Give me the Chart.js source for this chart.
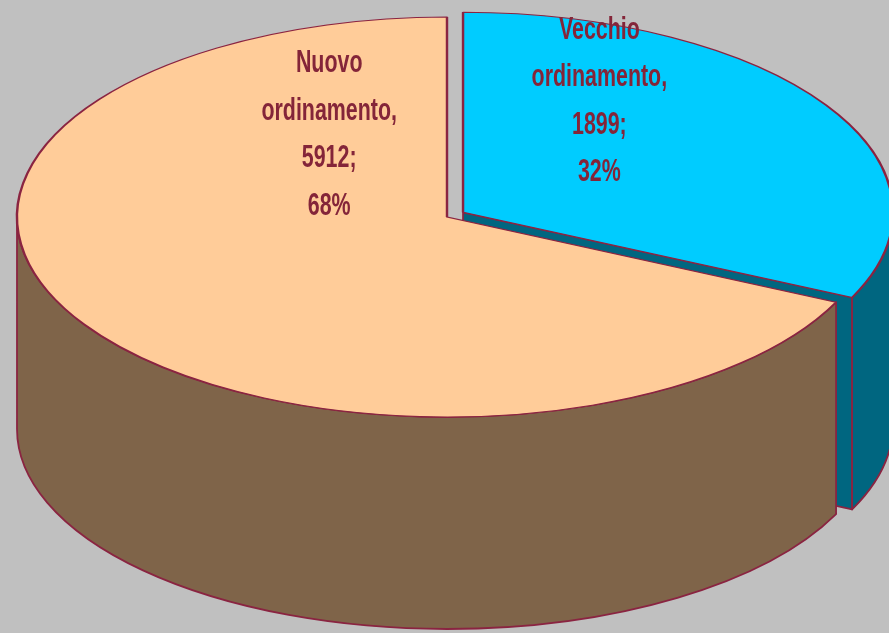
<!DOCTYPE html>
<html>
<head>
<meta charset="utf-8">
<title>Ordinamento</title>
<script src="https://cdn.jsdelivr.net/npm/chart.js@4.4.1/dist/chart.umd.min.js"></script>
<style>
  html, body { margin: 0; padding: 0; background: #c0c0c0; }
  canvas { display: block; }
</style>
</head>
<body>
<canvas id="pieChart" width="889" height="633"></canvas>
<script>
const categories = ['Vecchio ordinamento', 'Nuovo ordinamento'];
const counts = [1899, 5912];
const percents = [32, 68];

const topColors = ['#00ccff', '#ffcc99'];
const sideColors = ['#006680', '#7f6449'];
const lineColor = '#8a2441';
const textColor = '#842539';

// where the tilted pie sits on screen
const pie = { cx: 447, cy: 217, rx: 430, ry: 200, depth: 212 };
const explode = [19, 0];
const labelPos = [[0.317, -0.555], [-0.274, -0.41]];

function sliceShift(arc, i) {
  const mid = (arc.startAngle + arc.endAngle) / 2;
  return {
    x: Math.cos(mid) * explode[i],
    y: Math.sin(mid) * explode[i] * pie.ry / pie.rx,
  };
}

// outer rim, only the front half (0..PI) can be seen
function drawWall(ctx, a1, a2, s, color) {
  const ranges = [[0, Math.PI], [2 * Math.PI, 3 * Math.PI], [-2 * Math.PI, -Math.PI]];
  const x = pie.cx + s.x, y = pie.cy + s.y;
  ranges.forEach(([lo, hi]) => {
    const b1 = Math.max(a1, lo), b2 = Math.min(a2, hi);
    if (b2 <= b1) return;
    ctx.beginPath();
    ctx.ellipse(x, y, pie.rx, pie.ry, 0, b1, b2);
    ctx.ellipse(x, y + pie.depth, pie.rx, pie.ry, 0, b2, b1, true);
    ctx.closePath();
    ctx.fillStyle = color;
    ctx.fill();
    ctx.stroke();
  });
}

// cut face along a radius
function drawFace(ctx, a, s, color) {
  const x = pie.cx + s.x, y = pie.cy + s.y;
  const ex = x + pie.rx * Math.cos(a), ey = y + pie.ry * Math.sin(a);
  ctx.beginPath();
  ctx.moveTo(x, y);
  ctx.lineTo(ex, ey);
  ctx.lineTo(ex, ey + pie.depth);
  ctx.lineTo(x, y + pie.depth);
  ctx.closePath();
  ctx.fillStyle = color;
  ctx.fill();
  ctx.stroke();
}

const pie3d = {
  id: 'pie3d',
  beforeDatasetsDraw(chart) {
    const ctx = chart.ctx;
    const arcs = chart.getDatasetMeta(0).data;
    ctx.save();
    ctx.lineWidth = 1.8;
    ctx.strokeStyle = lineColor;
    ctx.lineJoin = 'round';

    arcs.forEach((arc, i) => {
      const s = sliceShift(arc, i);
      if (-Math.cos(arc.startAngle) > 0.01) drawFace(ctx, arc.startAngle, s, sideColors[i]);
      if (Math.cos(arc.endAngle) > 0.01) drawFace(ctx, arc.endAngle, s, sideColors[i]);
    });
    arcs.forEach((arc, i) => {
      drawWall(ctx, arc.startAngle, arc.endAngle, sliceShift(arc, i), sideColors[i]);
    });

    // top faces: let Chart.js draw each arc, squashed into the ellipse
    arcs.forEach((arc, i) => {
      const s = sliceShift(arc, i);
      const r = arc.outerRadius;
      ctx.save();
      ctx.translate(pie.cx + s.x, pie.cy + s.y);
      ctx.scale(pie.rx / r, pie.ry / r);
      ctx.translate(-arc.x, -arc.y);
      arc.draw(ctx);
      ctx.restore();
    });
    ctx.restore();
    return false;
  },
  afterDraw(chart) {
    const ctx = chart.ctx;
    const arcs = chart.getDatasetMeta(0).data;
    ctx.save();
    ctx.fillStyle = textColor;
    ctx.font = 'bold 31px "Liberation Sans", Arial, sans-serif';
    ctx.textAlign = 'center';
    ctx.textBaseline = 'middle';
    arcs.forEach((arc, i) => {
      const s = sliceShift(arc, i);
      const x = pie.cx + s.x + labelPos[i][0] * pie.rx;
      const y = pie.cy + s.y + labelPos[i][1] * pie.ry;
      const words = categories[i].split(' ');
      const lines = [words[0], words[1] + ',', counts[i] + ';', percents[i] + '%'];
      lines.forEach((t, k) => {
        ctx.save();
        ctx.translate(x, y + (k - 1.5) * 47.5);
        ctx.scale(0.69, 1);
        ctx.fillText(t, 0, 0);
        ctx.restore();
      });
    });
    ctx.restore();
  }
};

new Chart(document.getElementById('pieChart').getContext('2d'), {
  type: 'pie',
  data: {
    labels: categories,
    datasets: [
      {
        data: percents,
        backgroundColor: topColors,
        borderColor: lineColor,
        borderWidth: 1.8,
      },
    ],
  },
  options: {
    responsive: false,
    animation: false,
    plugins: {
      legend: { display: false },
      tooltip: { enabled: false },
    },
  },
  plugins: [pie3d],
});
</script>
</body>
</html>
